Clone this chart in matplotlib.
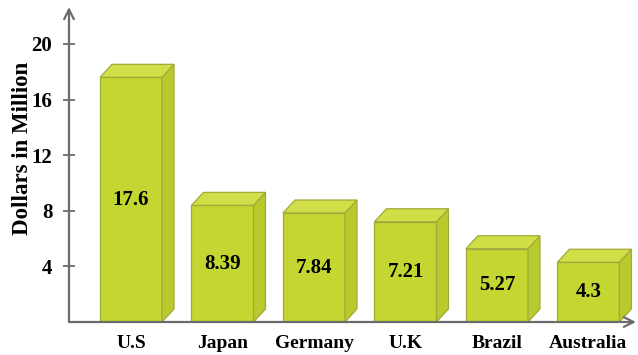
import matplotlib
matplotlib.use("Agg")
import matplotlib.pyplot as plt
from matplotlib.patches import Polygon

countries = ["U.S", "Japan", "Germany", "U.K", "Brazil", "Australia"]
values = [17.6, 8.39, 7.84, 7.21, 5.27, 4.3]
value_labels = ["17.6", "8.39", "7.84", "7.21", "5.27", "4.3"]
yticks = [4, 8, 12, 16, 20]

FRONT = "#c4d631"
TOP = "#d0df48"
SIDE = "#b9cb2c"
EDGE = "#a0aa3a"
AXIS = "#6b6b6b"
FONT = "Liberation Serif"

fig = plt.figure(figsize=(6.38, 3.55), dpi=100)
fig.patch.set_facecolor("white")
ax = fig.add_axes([69 / 638, 33 / 355, 567 / 638, 315 / 355])
ax.set_xlim(-0.678, 5.52)
ax.set_ylim(0, 22.66)

half = 0.339   # half width of the front face
dx, dy = 0.131, 0.935  # depth offset of the box

for i, v in enumerate(values):
    x0, x1 = i - half, i + half
    front = Polygon([(x0, 0), (x1, 0), (x1, v), (x0, v)], closed=True,
                    facecolor=FRONT, edgecolor=EDGE, linewidth=0.9, zorder=3)
    side = Polygon([(x1, 0), (x1 + dx, dy), (x1 + dx, v + dy), (x1, v)], closed=True,
                   facecolor=SIDE, edgecolor=EDGE, linewidth=0.9, zorder=3)
    top = Polygon([(x0, v), (x1, v), (x1 + dx, v + dy), (x0 + dx, v + dy)], closed=True,
                  facecolor=TOP, edgecolor=EDGE, linewidth=0.9, zorder=3)
    for p in (front, side, top):
        ax.add_patch(p)
    ax.text(i, v / 2, value_labels[i], ha="center", va="center",
            fontsize=15, fontweight="bold", family=FONT, color="black", zorder=4)

for s in ax.spines.values():
    s.set_visible(False)

# axes with open arrowheads
ax.annotate("", xy=(0, 1), xytext=(0, 0), xycoords="axes fraction",
            arrowprops=dict(arrowstyle="->,head_length=0.7,head_width=0.35",
                            color=AXIS, lw=1.6, shrinkA=0, shrinkB=0), zorder=5)
ax.annotate("", xy=(1, 0), xytext=(0, 0), xycoords="axes fraction",
            arrowprops=dict(arrowstyle="->,head_length=0.7,head_width=0.35",
                            color=AXIS, lw=1.6, shrinkA=0, shrinkB=0), zorder=5)

ax.set_yticks(yticks)
ax.set_yticklabels([str(t) for t in yticks], fontsize=15, fontweight="bold", family=FONT)
ax.tick_params(axis="y", direction="inout", length=8, width=1.3, color=AXIS, pad=8)
ax.set_xticks(range(len(countries)))
ax.set_xticklabels(countries, fontsize=14, fontweight="bold", family=FONT)
ax.tick_params(axis="x", length=0, pad=9)

ax.set_ylabel("Dollars in Million", fontsize=16.5, fontweight="bold", family=FONT)
ax.yaxis.set_label_coords(-0.063, 0.55)

fig.savefig("out.png", dpi=100, facecolor="white")
